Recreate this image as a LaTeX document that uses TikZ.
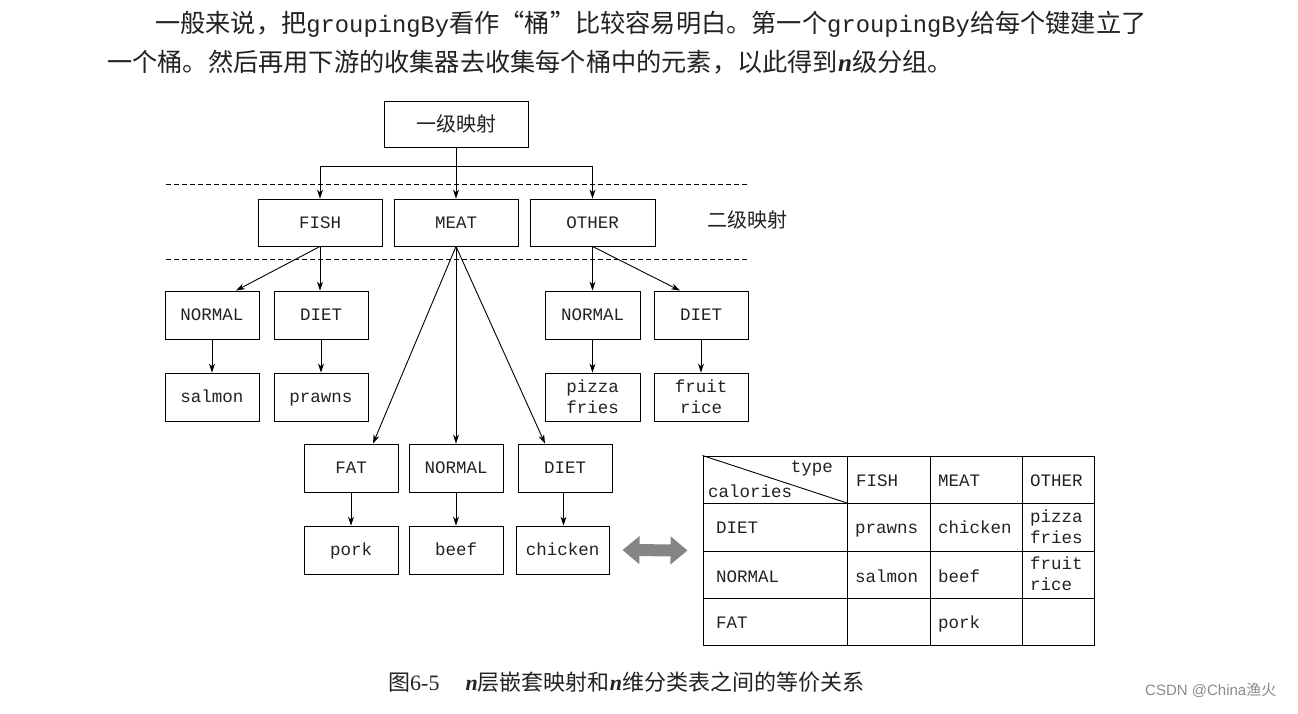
\documentclass[tikz,border=0pt]{standalone}
\usepackage{fontspec}
\setmainfont{Liberation Serif}
\newfontfamily\cjk{Noto Sans CJK SC}
\newfontfamily\mono{Liberation Mono}
\newfontfamily\wmfont{Liberation Sans}
\usetikzlibrary{arrows.meta}
\definecolor{txtc}{HTML}{222222}
\definecolor{arrgray}{HTML}{858585}
\definecolor{wmgray}{HTML}{8C8C8C}
\newcommand\gbword{{\mono\fontsize{23.8}{30}\selectfont groupingBy}}
\newcommand\nital{{\bfseries\itshape n}}
\begin{document}
\begin{tikzpicture}[x=1pt,y=-1pt,
  bxbase/.style 2 args={draw, line width=0.9pt, inner sep=0pt, minimum width=#1, minimum height=#2,
     font=\mono\fontsize{17.5}{21}\selectfont, text=txtc},
  bx/.style 2 args={bxbase={#1}{#2}, text height=12pt, text depth=0.5pt},
  bxtwo/.style 2 args={bxbase={#1}{#2}, align=center},
  cjkbox/.style 2 args={draw, line width=0.9pt, inner sep=0pt, minimum width=#1, minimum height=#2,
     font=\cjk\fontsize{20}{24}\selectfont, text=txtc},
  arr/.style={line width=0.9pt, -{Stealth[length=9pt,width=6pt]}},
  plain/.style={line width=0.9pt},
  txt/.style={inner sep=0pt, anchor=base west, text=txtc},
  cellbase/.style={inner sep=0pt, anchor=west, font=\mono\fontsize{17.5}{21}\selectfont, text=txtc},
  cell/.style={cellbase, text height=12pt, text depth=0.5pt},
  celltwo/.style={cellbase, align=left},
  sepline/.style={line width=0.9pt, dash pattern=on 5pt off 3pt}
]
\useasboundingbox (0,0) rectangle (1298,714);
\fill[white] (0,0) rectangle (1298,714);

% paragraph
\node[txt, font=\cjk\fontsize{25.2}{30}\selectfont] (line1) at (155,32.5)
  {一般来说，把\gbword 看作“桶”比较容易明白。第一个\gbword 给每个键建立了};
\node[txt, font=\cjk\fontsize{25.2}{30}\selectfont] (line2) at (107,71.5)
  {一个桶。然后再用下游的收集器去收集每个桶中的元素，以此得到{\fontsize{25.2}{30}\selectfont\rmfamily\nital}级分组。};

% tree
\node[cjkbox={144}{46}] (top) at (456,124) {一级映射};
\node[bx={124}{47}] (fish) at (320,222.5) {FISH};
\node[bx={124}{47}] (meat) at (456,222.5) {MEAT};
\node[bx={125}{47}] (other) at (592.5,222.5) {OTHER};
\node[inner sep=0pt, font=\cjk\fontsize{20}{24}\selectfont, text=txtc] (lvl2) at (747,220) {二级映射};

\draw[sepline] (166,184) -- (748,184);
\draw[sepline] (166,259) -- (748,259);

\coordinate (j) at (456,166);
\draw[plain] (top.south) -- (j);
\draw[arr] (j) -| (fish.north);
\draw[arr] (j) -| (other.north);
\draw[arr] (j) -- (meat.north);

\node[bx={94}{48}] (fn) at (212,315) {NORMAL};
\node[bx={94}{48}] (fd) at (321,315) {DIET};
\node[bx={95}{48}] (on) at (592.5,315) {NORMAL};
\node[bx={94}{48}] (od) at (701,315) {DIET};

\node[bx={94}{48}] (salmon) at (212,397) {salmon};
\node[bx={94}{48}] (prawns) at (321,397) {prawns};
\node[bxtwo={95}{48}] (pizza) at (592.5,397) {pizza\\fries};
\node[bxtwo={94}{48}] (fruit) at (701,397) {fruit\\rice};

\node[bx={94}{48}] (mf) at (351,468) {FAT};
\node[bx={94}{48}] (mn) at (456,468) {NORMAL};
\node[bx={94}{48}] (md) at (565,468) {DIET};

\node[bx={94}{48}] (pork) at (351,550) {pork};
\node[bx={94}{48}] (beef) at (456,550) {beef};
\node[bx={93}{48}] (chicken) at (562.5,550) {chicken};

\draw[arr] (fish.south) -- ([xshift=24pt]fn.north);
\draw[arr] (fish.south) -- (fish.south |- fd.north);
\draw[arr] (other.south) -- (on.north);
\draw[arr] (other.south) -- ([xshift=-21pt]od.north);
\draw[arr] (meat.south) -- ([xshift=22pt]mf.north);
\draw[arr] (meat.south) -- (mn.north);
\draw[arr] (meat.south) -- ([xshift=-20pt]md.north);

\draw[arr] (fn.south) -- (salmon.north);
\draw[arr] (fd.south) -- (prawns.north);
\draw[arr] (on.south) -- (pizza.north);
\draw[arr] (od.south) -- (fruit.north);
\draw[arr] (mf.south) -- (pork.north);
\draw[arr] (mn.south) -- (beef.north);
\draw[arr] ([xshift=-1.5pt]md.south) -- ([xshift=-1.5pt]md.south |- chicken.north);

% table
\node[draw, line width=0.9pt, inner sep=0pt, minimum width=391, minimum height=189] (tab) at (898.5,550.5) {};
\draw[plain] (847,456) -- (847,645);
\draw[plain] (930,456) -- (930,645);
\draw[plain] (1022,456) -- (1022,645);
\draw[plain] (703,503) -- (1094,503);
\draw[plain] (703,551) -- (1094,551);
\draw[plain] (703,598) -- (1094,598);
\draw[plain] (tab.north west) -- (847,503);

\node[cell, anchor=east] (ctype) at (833,467) {type};
\node[cell] (ccal) at (708,492) {calories};
\node[cell] (hfish) at (856,481) {FISH};
\node[cell] (hmeat) at (938,481) {MEAT};
\node[cell] (hother) at (1030,481) {OTHER};

\node[cell] (rdiet) at (716,528) {DIET};
\node[cell] (c11) at (855,528) {prawns};
\node[cell] (c12) at (938,528) {chicken};
\node[celltwo] (c13) at (1030,527) {pizza\\fries};

\node[cell] (rnorm) at (716,577) {NORMAL};
\node[cell] (c21) at (855,577) {salmon};
\node[cell] (c22) at (938,577) {beef};
\node[celltwo] (c23) at (1030,574) {fruit\\rice};

\node[cell] (rfat) at (716,623) {FAT};
\node[cell] (c32) at (938,623) {pork};

% double arrow
\draw[arrgray, line width=12pt, {Triangle[length=17pt,width=27pt]}-{Triangle[length=17pt,width=27pt]}]
  ([xshift=13pt]chicken.east) -- ([xshift=-15pt]tab.west);

% caption
\node[txt, font=\fontsize{22}{27}\selectfont] (cap) at (388,690)
  {{\cjk 图}6-5\hspace{26pt}\nital{\cjk 层嵌套映射和}\nital{\cjk 维分类表之间的等价关系}};

% watermark
\node[txt, text=wmgray, font=\wmfont\fontsize{15}{18}\selectfont] (wm) at (1145,695)
  {CSDN @China{\cjk 渔火}};
\end{tikzpicture}
\end{document}
